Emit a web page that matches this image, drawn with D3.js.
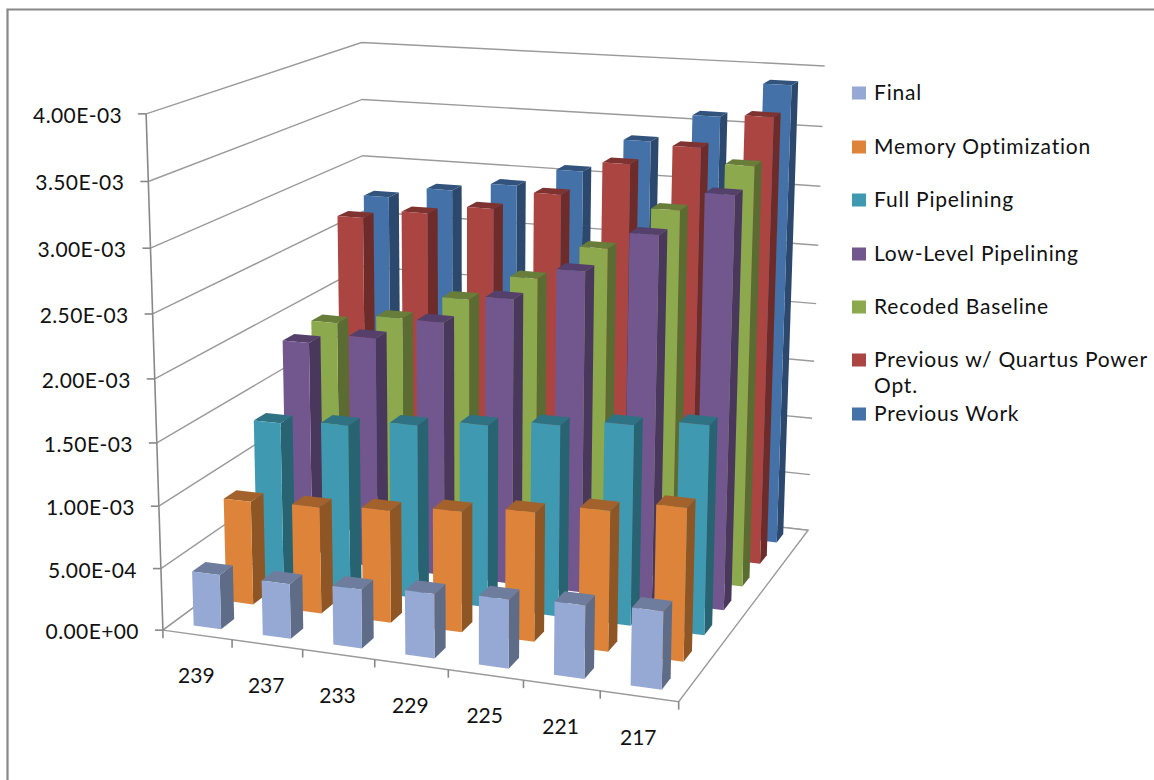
<!DOCTYPE html>
<html>
<head>
<meta charset="utf-8">
<script src="https://cdn.jsdelivr.net/npm/d3@7"></script>
<style>
  html, body { margin: 0; padding: 0; background: #fff; }
  svg { display: block; }
  text { font-family: Lato, "Open Sans", sans-serif; fill: #111; }
</style>
</head>
<body>
<svg id="chart" width="1154" height="780"></svg>
<script>
const categories = ['239', '237', '233', '229', '225', '221', '217'];
const seriesNames = ['Final', 'Memory Optimization', 'Full Pipelining', 'Low-Level Pipelining', 'Recoded Baseline', 'Previous w/ Quartus Power Opt.', 'Previous Work'];
const seriesColors = ['#95A9D4', '#DD843A', '#3F9AB1', '#72578F', '#8CA94D', '#AB4542', '#4471A8'];
const valueTicks = [0, 5e-4, 1e-3, 1.5e-3, 2e-3, 2.5e-3, 3e-3, 3.5e-3, 4e-3];

// values
const finalValues = [0.44e-3, 0.44e-3, 0.47e-3, 0.51e-3, 0.54e-3, 0.57e-3, 0.60e-3];
const memoryValues = [0.85e-3, 0.87e-3, 0.91e-3, 0.97e-3, 1.03e-3, 1.11e-3, 1.20e-3];
const fullPipeValues = [1.33e-3, 1.37e-3, 1.43e-3, 1.49e-3, 1.55e-3, 1.61e-3, 1.67e-3];
const lowLevelValues = [1.85e-3, 1.94e-3, 2.12e-3, 2.36e-3, 2.63e-3, 2.96e-3, 3.31e-3];
const recodedValues = [1.88e-3, 1.97e-3, 2.18e-3, 2.40e-3, 2.69e-3, 3.04e-3, 3.43e-3];
const quartusValues = [2.66e-3, 2.74e-3, 2.82e-3, 2.98e-3, 3.27e-3, 3.44e-3, 3.72e-3];
const previousValues = [2.73e-3, 2.83e-3, 2.91e-3, 3.07e-3, 3.36e-3, 3.60e-3, 3.89e-3];
const seriesValues = [finalValues, memoryValues, fullPipeValues, lowLevelValues, recodedValues, quartusValues, previousValues];

const svg = d3.select('#chart');

const xScale = d3.scaleBand().domain(categories).range([0, 1]).paddingInner(0.6).paddingOuter(0.3);
const zScale = d3.scaleBand().domain(seriesNames).range([0, 1]).paddingInner(0.6).paddingOuter(0.3);
const yScale = d3.scaleLinear().domain([0, 4e-3]).range([0, 1]);

// camera fitted to the corners of the chart box: [u, h, w, screenX, screenY]
const anchors = [
  [0, 0, 0, 163, 630], [0, 0.125, 0, 161, 569], [0, 0.25, 0, 159, 507], [0, 0.5, 0, 155, 378],
  [0, 0.75, 0, 151, 248], [0, 0.875, 0, 148, 181], [0, 1, 0, 146, 114],
  [1, 0, 0, 678, 702],
  [1, 0, 1, 808, 530], [1, 0.25, 1, 813, 417], [1, 0.5, 1, 816, 305], [1, 0.75, 1, 820, 186], [1, 1, 1, 825, 66],
  [0, 1, 1, 362, 43], [0, 0.875, 1, 362, 99], [0, 0.75, 1, 362, 156]
];

const fitCamera = () => {
  const rows = [];
  anchors.forEach(([u, h, w, sx, sy]) => {
    rows.push([u, h, w, 1, 0, 0, 0, 0, -sx * u, -sx * h, -sx * w, sx]);
    rows.push([0, 0, 0, 0, u, h, w, 1, -sy * u, -sy * h, -sy * w, sy]);
  });
  const n = 11;
  const m = d3.range(n).map(i => d3.range(n + 1).map(j => d3.sum(rows, r => r[i] * r[j])));
  for (let c = 0; c < n; c++) {
    let best = c;
    for (let r = c + 1; r < n; r++) if (Math.abs(m[r][c]) > Math.abs(m[best][c])) best = r;
    [m[c], m[best]] = [m[best], m[c]];
    for (let r = 0; r < n; r++) {
      if (r === c) continue;
      const f = m[r][c] / m[c][c];
      for (let k = c; k <= n; k++) m[r][k] -= f * m[c][k];
    }
  }
  return m.map((row, i) => row[n] / row[i]);
};
const P = fitCamera();
const project = (u, h, w) => {
  const d = P[8] * u + P[9] * h + P[10] * w + 1;
  return [(P[0] * u + P[1] * h + P[2] * w + P[3]) / d, (P[4] * u + P[5] * h + P[6] * w + P[7]) / d];
};

const poly = pts => pts.map(p => p.join(',')).join(' ');
const gridColor = '#9a9a9a';

// walls
const grid = svg.append('g');
valueTicks.forEach(v => {
  const h = yScale(v);
  grid.append('polyline').attr('points', poly([project(0, h, 0), project(0, h, 1), project(1, h, 1)]))
    .attr('fill', 'none').attr('stroke', gridColor).attr('stroke-width', 1.4);
});
// floor
grid.append('polygon').attr('points', poly([project(0, 0, 0), project(1, 0, 0), project(1, 0, 1), project(0, 0, 1)]))
  .attr('fill', '#fff').attr('stroke', gridColor).attr('stroke-width', 1.4);

// bars, back row first
const bars = svg.append('g');
d3.range(seriesNames.length).reverse().forEach(s => {
  const base = d3.color(seriesColors[s]);
  const w0 = zScale(seriesNames[s]), w1 = w0 + zScale.bandwidth();
  categories.forEach((cat, i) => {
    const u0 = xScale(cat), u1 = u0 + xScale.bandwidth();
    const h = yScale(seriesValues[s][i]);
    const g = bars.append('g');
    g.append('polygon').attr('points', poly([project(u1, 0, w0), project(u1, 0, w1), project(u1, h, w1), project(u1, h, w0)]))
      .attr('fill', base.darker(1.25));
    g.append('polygon').attr('points', poly([project(u0, h, w0), project(u1, h, w0), project(u1, h, w1), project(u0, h, w1)]))
      .attr('fill', base.darker(0.85));
    g.append('polygon').attr('points', poly([project(u0, 0, w0), project(u1, 0, w0), project(u1, h, w0), project(u0, h, w0)]))
      .attr('fill', base);
  });
});

// value axis
const axis = svg.append('g');
axis.append('line')
  .attr('x1', project(0, 0, 0)[0]).attr('y1', project(0, 0, 0)[1])
  .attr('x2', project(0, 1, 0)[0]).attr('y2', project(0, 1, 0)[1])
  .attr('stroke', '#888').attr('stroke-width', 1.6);
valueTicks.forEach(v => {
  const [x, y] = project(0, yScale(v), 0);
  axis.append('line').attr('x1', x - 8).attr('x2', x).attr('y1', y).attr('y2', y).attr('stroke', '#888').attr('stroke-width', 1.6);
  axis.append('text').attr('x', x - 24).attr('y', y + 9).attr('text-anchor', 'end').attr('font-size', 21).attr('letter-spacing', 0.4)
    .text(v.toExponential(2).toUpperCase().replace(/E([+-])(\d)$/, 'E$10$2'));
});

// category axis
d3.range(categories.length + 1).forEach(i => {
  const u = i / categories.length;
  const [x, y] = project(u, 0, 0);
  axis.append('line').attr('x1', x).attr('x2', x).attr('y1', y).attr('y2', y + 8).attr('stroke', '#888').attr('stroke-width', 1.6);
});
categories.forEach(cat => {
  const [x, y] = project(xScale(cat) + xScale.bandwidth() / 2, 0, 0);
  axis.append('text').attr('x', x - 1).attr('y', y + 48.5).attr('text-anchor', 'middle').attr('font-size', 21).text(cat);
});

// legend
const legendY = [93, 147, 200, 254, 307, 360, 414];
const legend = svg.append('g');
seriesNames.forEach((name, s) => {
  legend.append('rect').attr('x', 852).attr('y', legendY[s] - 6.5).attr('width', 14).attr('height', 13).attr('fill', seriesColors[s]);
  const t = legend.append('text').attr('x', 874).attr('y', legendY[s] + 7).attr('font-size', 21).attr('letter-spacing', 0.8);
  if (name.includes('Quartus')) {
    t.text('Previous w/ Quartus Power');
    legend.append('text').attr('x', 874).attr('y', legendY[s] + 33).attr('font-size', 21).attr('letter-spacing', 0.8).text('Opt.');
  } else t.text(name);
});

// frame
svg.append('path').attr('d', 'M7.5,780V9.5H1154').attr('fill', 'none').attr('stroke', '#888').attr('stroke-width', 2.2);
</script>
</body>
</html>
